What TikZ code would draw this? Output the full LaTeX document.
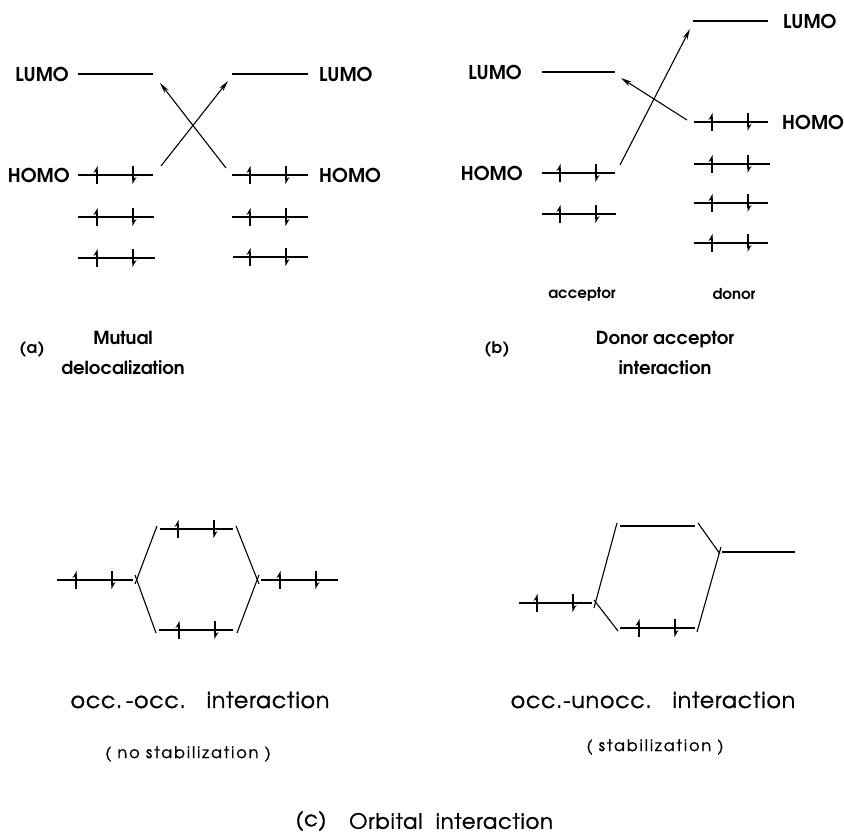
\documentclass[tikz,border=0pt]{standalone}
\usepackage{fontspec}
\setmainfont{TeX Gyre Adventor}
\newfontfamily\medfont{TeX Gyre Adventor}[FakeBold=1.2, LetterSpace=4]
\newfontfamily\widefont{TeX Gyre Adventor}[FakeBold=1.2, LetterSpace=12]
\newfontfamily\boldwide{TeX Gyre Adventor}[LetterSpace=3]
\usetikzlibrary{arrows.meta}
\tikzset{
  lvl/.style={line width=1.7pt, line cap=butt},
  conn/.style={line width=1.1pt},
  mo/.style={line width=1.1pt, -{Stealth[length=11pt,width=5pt]}},
  elup/.style={line width=1.6pt, -{Stealth[harpoon,length=6pt,width=7pt]}},
  mlabel/.style={font=\fontsize{19}{20}\selectfont\bfseries, inner sep=0pt},
  small/.style={font=\fontsize{15}{16}\selectfont\bfseries, inner sep=0pt},
  tagtext/.style={font=\boldwide\fontsize{16}{16}\selectfont\bfseries, inner sep=0pt},
  title/.style={font=\fontsize{18}{30}\selectfont\bfseries, inner sep=0pt, align=center},
  ctext/.style={font=\medfont\fontsize{22}{24}\selectfont, inner sep=0pt},
  captext/.style={font=\medfont\fontsize{21}{24}\selectfont, inner sep=0pt},
  subtext/.style={font=\widefont\fontsize{16}{18}\selectfont, inner sep=0pt},
  epair/.pic={
    \draw[elup] (-18,9) -- (-18,-9);
    \draw[elup] (18,-9) -- (18,9);
  }
}
\begin{document}
\begin{tikzpicture}[x=1pt,y=-1pt]
\useasboundingbox (0,0) rectangle (844,834);
% ---------------- (a) ----------------
\coordinate (aLLw) at (78,74);  \coordinate (aLLe) at (153,74);
\coordinate (aRLw) at (232,74); \coordinate (aRLe) at (308,74);
\coordinate (aLHw) at (78,175); \coordinate (aLHe) at (153,175);
\coordinate (aRHw) at (232,175); \coordinate (aRHe) at (308,175);
\draw[lvl] (aLLw) -- (aLLe);
\draw[lvl] (aRLw) -- (aRLe);
\draw[lvl] (aLHw) -- (aLHe);
\draw[lvl] (aRHw) -- (aRHe);
\draw[lvl] (78,217) -- (154,217);
\draw[lvl] (78,258) -- (155,258);
\draw[lvl] (232,217) -- (308,217);
\draw[lvl] (233,257) -- (308,257);
\pic at (115,175) {epair}; \pic at (115,217) {epair}; \pic at (115,258) {epair};
\pic at (268,175) {epair}; \pic at (268,217) {epair}; \pic at (268,257) {epair};
\node[mlabel, anchor=east] (aLLlab) at (69,74) {LUMO};
\node[mlabel, anchor=west] (aRLlab) at (319,74) {LUMO};
\node[mlabel, anchor=east] (aLHlab) at (70,175) {HOMO};
\node[mlabel, anchor=west] (aRHlab) at (319,175) {HOMO};
\coordinate (aA1s) at (161,166); \coordinate (aA1e) at (228,81);
\coordinate (aA2s) at (226,168); \coordinate (aA2e) at (160,83);
\draw[mo] (aA1s) -- (aA1e);
\draw[mo] (aA2s) -- (aA2e);
\node[tagtext] (atag) at (32,350) {(a)};
\node[title] (atitle) at (123,353) {Mutual\\delocalization};
% ---------------- (b) ----------------
\coordinate (bALw) at (542,72); \coordinate (bALe) at (615,72);
\coordinate (bAHw) at (542,173); \coordinate (bAHe) at (615,173);
\coordinate (bDLw) at (693,21); \coordinate (bDLe) at (768,21);
\coordinate (bDHw) at (694,122); \coordinate (bDHe) at (768,122);
\draw[lvl] (bALw) -- (bALe);
\draw[lvl] (bAHw) -- (bAHe);
\draw[lvl] (542,214) -- (616,214);
\draw[lvl] (bDLw) -- (bDLe);
\draw[lvl] (bDHw) -- (bDHe);
\draw[lvl] (694,164) -- (770,164);
\draw[lvl] (694,203) -- (768,203);
\draw[lvl] (694,243) -- (768,243);
\pic at (578,173) {epair}; \pic at (578,214) {epair};
\pic at (730,122) {epair}; \pic at (730,164) {epair}; \pic at (730,203) {epair}; \pic at (730,243) {epair};
\node[mlabel, anchor=east] (bALlab) at (522,72) {LUMO};
\node[mlabel, anchor=east] (bAHlab) at (523,173) {HOMO};
\node[mlabel, anchor=west] (bDLlab) at (783,21) {LUMO};
\node[mlabel, anchor=west] (bDHlab) at (782,122) {HOMO};
\coordinate (bA1s) at (620,165); \coordinate (bA1e) at (690,29);
\coordinate (bA2s) at (687,120); \coordinate (bA2e) at (621,78);
\draw[mo] (bA1s) -- (bA1e);
\draw[mo] (bA2s) -- (bA2e);
\node[small] (bacc) at (582,294) {acceptor};
\node[small] (bdon) at (734,294) {donor};
\node[tagtext] (btag) at (497,350) {(b)};
\node[title] (btitle) at (665,353) {Donor acceptor\\interaction};
% ---------------- (c) left ----------------
\coordinate (cL1w) at (57,580);  \coordinate (cL1e) at (133,580);
\coordinate (cT1w) at (160,529); \coordinate (cT1e) at (233,529);
\coordinate (cB1w) at (159,630); \coordinate (cB1e) at (233,630);
\coordinate (cR1w) at (261,580); \coordinate (cR1e) at (338,580);
\draw[lvl] (cL1w) -- (cL1e);
\draw[lvl] (cT1w) -- (cT1e);
\draw[lvl] (cB1w) -- (cB1e);
\draw[lvl] (cR1w) -- (cR1e);
\pic at (94,580) {epair}; \pic at (196,529) {epair}; \pic at (197,630) {epair}; \pic at (298,580) {epair};
\draw[conn] ([xshift=2pt,yshift=-4pt]cL1e) -- ([xshift=-3pt,yshift=3pt]cT1w);
\draw[conn] ([xshift=2pt,yshift=5pt]cL1e) -- ([xshift=-3pt,yshift=-3pt]cB1w);
\draw[conn] ([xshift=3pt,yshift=3pt]cT1e) -- ([xshift=-2pt,yshift=-4pt]cR1w);
\draw[conn] ([xshift=4pt,yshift=-3pt]cB1e) -- ([xshift=-2pt,yshift=5pt]cR1w);
\node[ctext] (coo) at (200,700) {occ.\,-occ.\ \ \ interaction};
\node[subtext] (cns) at (188,754) {(\ no stabilization\ )};
% ---------------- (c) right ----------------
\coordinate (cL2w) at (519,603); \coordinate (cL2e) at (592,603);
\coordinate (cT2w) at (620,526); \coordinate (cT2e) at (695,526);
\coordinate (cB2w) at (620,628); \coordinate (cB2e) at (695,628);
\coordinate (cR2w) at (722,552); \coordinate (cR2e) at (795,552);
\draw[lvl] (cL2w) -- (cL2e);
\draw[lvl] (cT2w) -- (cT2e);
\draw[lvl] (cB2w) -- (cB2e);
\draw[lvl] (cR2w) -- (cR2e);
\pic at (555,603) {epair}; \pic at (657,628) {epair};
\draw[conn] ([xshift=2pt,yshift=-5pt]cL2e) -- ([xshift=-3pt,yshift=3pt]cT2w);
\draw[conn] ([xshift=2pt,yshift=3pt]cL2e) -- ([xshift=-2pt,yshift=-3pt]cB2w);
\draw[conn] ([xshift=3pt,yshift=3pt]cT2e) -- ([xshift=-2pt,yshift=-2pt]cR2w);
\draw[conn] ([xshift=-1pt,yshift=5pt]cR2w) -- ([xshift=2pt,yshift=-4pt]cB2e);
\node[ctext] (cou) at (653,700) {occ.-unocc.\ \ \ interaction};
\node[subtext] (cst) at (655,747) {(\ stabilization\ )};
% ---------------- (c) caption ----------------
\node[captext] (ctag) at (311,821) {(c)};
\node[captext, anchor=west] (ctitle) at (349,821) {Orbital\ \ interaction};
\end{tikzpicture}
\end{document}
